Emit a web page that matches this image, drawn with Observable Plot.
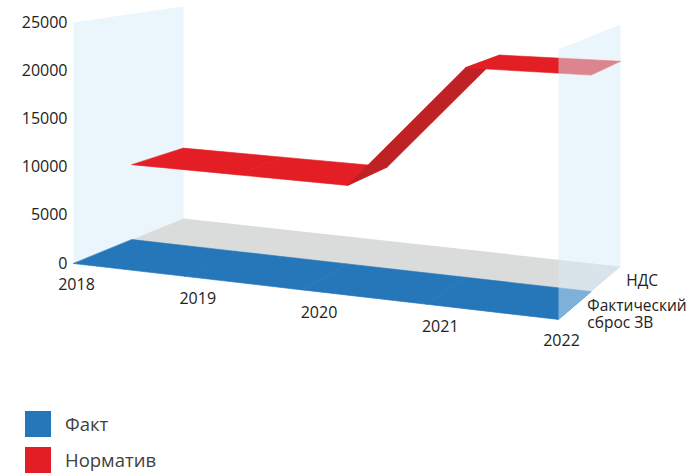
<!DOCTYPE html>
<html>
<head>
<meta charset="utf-8">
<script src="https://cdn.jsdelivr.net/npm/d3@7"></script>
<script src="https://cdn.jsdelivr.net/npm/@observablehq/plot@0.6"></script>
<style>
  body { margin: 0; background: #fff; font-family: "Open Sans", sans-serif; }
  #chart svg { display: block; }
  #legend { margin-top: 16px; padding-left: 25px; }
  .item { display: flex; align-items: center; height: 26px; margin-bottom: 10px; font-size: 18.5px; line-height: 1; color: #404040; }
  .sw { width: 26px; height: 26px; margin-right: 14px; flex: none; }
</style>
</head>
<body>
<div id="chart"></div>
<div id="legend"></div>
<script>
// ---- data ----
const years = [2018, 2019, 2020, 2021, 2022];
const yTicks = [0, 5000, 10000, 15000, 20000, 25000];
const rows = ["Фактический сброс ЗВ", "НДС"];          // depth rows, front → back
const seriesNames = ["Факт", "Норматив"];
const fakt = [0, 0, 0, 0, 0];
const normativ = [8300, 8250, 8200, 21200, 21200];

// ---- styles ----
const palette = {
  "Факт": {fill: "#2577b9", shade: "#1b5a8e"},
  "Норматив": {fill: "#e31e24", shade: "#bf2224"}
};
const floorColor = "#dadbdb";
const wallColor = "#d6ebf9";

// ---- scales (library scales, normalised to the 3D box) ----
const uScale = Plot.scale({x: {type: "point", domain: years, range: [0, 1], padding: 0}});
const vScale = Plot.scale({y: {type: "linear", domain: [0, d3.max(yTicks)], range: [0, 1]}});
const wScale = Plot.scale({x: {type: "band", domain: rows, range: [0, 1], padding: 0}});

// ---- 3D box frame: floor corners on screen and full-scale column heights ----
const box = {
  frontLeft:  {x: 73,  y: 263, h: 241},
  frontRight: {x: 558, y: 319, h: 270},
  backLeft:   {x: 183, y: 218, h: 212},
  backRight:  {x: 620, y: 266, h: 242}
};
function place(u, t, w, perspective) {
  const cols = [
    [(1 - u) * (1 - w), box.frontLeft],
    [u * (1 - w), box.frontRight],
    [(1 - u) * w, box.backLeft],
    [u * w, box.backRight]
  ];
  let X = 0, Y = 0, S = 0;
  for (const [b, c] of cols) {
    const k = perspective ? b / c.h : b;   // perspective-correct weights
    X += k * c.x;
    Y += k * (c.y - t * c.h);
    S += k;
  }
  return [X / S, Y / S];
}
// custom projection: (year, value[, depth]) → screen
// 2D points (axis labels) are laid out evenly on the front edge, 3D points in perspective
const projection = d3.geoTransform({
  point(year, value, depth) {
    const u = uScale.apply(year), t = vScale.apply(value);
    const p = depth === undefined ? place(u, t, 0, false) : place(u, t, depth, true);
    this.stream.point(p[0], p[1]);
  }
});

// ---- geometry built from the data ----
const y0 = years[0], y1 = years[years.length - 1], vMax = d3.max(yTicks);
const poly = (coords, props = {}) => ({
  type: "Feature", properties: props,
  geometry: {type: "Polygon", coordinates: [[...coords, coords[0]]]}
});
const floor = [poly([[y0, 0, 0], [y1, 0, 0], [y1, 0, 1], [y0, 0, 1]])];
const leftWall = [poly([[y0, 0, 0], [y0, 0, 1], [y0, vMax, 1], [y0, vMax, 0]])];
const rightWall = [poly([[y1, 0, 0], [y1, 0, 1], [y1, vMax, 1], [y1, vMax, 0]])];

const series = [
  {name: seriesNames[0], row: rows[0], values: fakt},
  {name: seriesNames[1], row: rows[1], values: normativ}
];
const ribbons = [];
for (const s of series) {
  const wa = wScale.apply(s.row), wb = wa + wScale.bandwidth;
  const {fill, shade} = palette[s.name];
  for (let i = 0; i < years.length - 1; i++) {
    const a = s.values[i], b = s.values[i + 1];
    const k = Math.min(1, Math.abs(b - a) / vMax / 0.3);
    ribbons.push(poly(
      [[years[i], a, wa], [years[i + 1], b, wa], [years[i + 1], b, wb], [years[i], a, wb]],
      {fill: d3.interpolateRgb(fill, shade)(k)}
    ));
  }
}
const rowPoint = (r) => ({type: "Point", coordinates: [y1, 0, wScale.apply(r) + wScale.bandwidth / 2]});

const chart = Plot.plot({
  width: 687,
  height: 395,
  margin: 0,
  projection,
  style: {fontFamily: "Open Sans, sans-serif", color: "#222", background: "#fff"},
  marks: [
    Plot.geo(leftWall, {fill: wallColor, fillOpacity: 0.5}),
    Plot.geo(floor, {fill: floorColor}),
    Plot.geo(ribbons, {fill: (d) => d.properties.fill, stroke: (d) => d.properties.fill, strokeWidth: 0.6, strokeLinejoin: "round"}),
    Plot.geo(rightWall, {fill: wallColor, fillOpacity: 0.5}),
    Plot.text(yTicks, {x: () => y0, y: (d) => d, text: (d) => String(d), textAnchor: "end", dx: -6, fontSize: 16}),
    Plot.text(years, {x: (d) => d, y: () => 0, text: (d) => String(d), dx: 3, dy: 21, fontSize: 16}),
    Plot.text([rows[1]], Plot.centroid({geometry: rowPoint, text: (d) => d, textAnchor: "start", dx: 20, dy: 2, fontSize: 15.5})),
    Plot.text([rows[0]], Plot.centroid({geometry: rowPoint, text: (d) => d, textAnchor: "start", lineWidth: 7, lineHeight: 1.1, dx: 12, dy: 9, fontSize: 15.5}))
  ]
});
document.getElementById("chart").append(chart);

// ---- legend ----
const legend = document.getElementById("legend");
for (const name of seriesNames) {
  const item = document.createElement("div");
  item.className = "item";
  const sw = document.createElement("div");
  sw.className = "sw";
  sw.style.background = palette[name].fill;
  const label = document.createElement("span");
  label.textContent = name;
  item.append(sw, label);
  legend.append(item);
}
</script>
</body>
</html>
